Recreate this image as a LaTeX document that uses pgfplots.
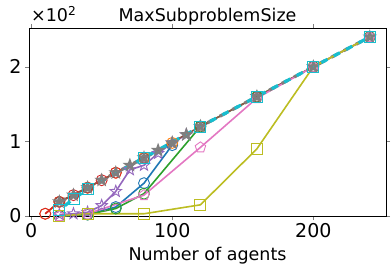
\documentclass[border=0pt]{standalone}
\usepackage{pgfplots}
\pgfplotsset{compat=1.18}
\usepackage{fontspec}
\setmainfont{DejaVu Sans}
\definecolor{c0}{HTML}{1F77B4}
\definecolor{c1}{HTML}{FF7F0E}
\definecolor{c2}{HTML}{2CA02C}
\definecolor{c3}{HTML}{D62728}
\definecolor{c4}{HTML}{9467BD}
\definecolor{c5}{HTML}{8C564B}
\definecolor{c6}{HTML}{E377C2}
\definecolor{c7}{HTML}{7F7F7F}
\definecolor{c8}{HTML}{BCBD22}
\definecolor{c9}{HTML}{17BECF}
\pgfdeclareplotmark{fivestar}{%
  \pgfpathmoveto{\pgfqpointpolar{90}{1.1\pgfplotmarksize}}%
  \pgfpathlineto{\pgfqpointpolar{126}{0.45\pgfplotmarksize}}%
  \pgfpathlineto{\pgfqpointpolar{162}{1.1\pgfplotmarksize}}%
  \pgfpathlineto{\pgfqpointpolar{198}{0.45\pgfplotmarksize}}%
  \pgfpathlineto{\pgfqpointpolar{234}{1.1\pgfplotmarksize}}%
  \pgfpathlineto{\pgfqpointpolar{270}{0.45\pgfplotmarksize}}%
  \pgfpathlineto{\pgfqpointpolar{306}{1.1\pgfplotmarksize}}%
  \pgfpathlineto{\pgfqpointpolar{342}{0.45\pgfplotmarksize}}%
  \pgfpathlineto{\pgfqpointpolar{18}{1.1\pgfplotmarksize}}%
  \pgfpathlineto{\pgfqpointpolar{54}{0.45\pgfplotmarksize}}%
  \pgfpathclose
  \pgfusepathqstroke}
\begin{document}
\begin{tikzpicture}
\begin{axis}[
  scale only axis, width=357pt, height=188pt,
  xmin=-1.5, xmax=251.5, ymin=0, ymax=252,
  xtick={0,100,200}, ytick={0,100,200}, yticklabels={0,1,2},
  tick label style={font=\fontsize{19}{21}\selectfont},
  /pgf/number format/assume math mode=true,
  tick align=outside, major tick length=4pt,
  title={MaxSubproblemSize}, title style={font=\fontsize{17.5}{19}\selectfont, yshift=-7pt},
  xlabel={Number of agents}, xlabel style={font=\fontsize{17.5}{19}\selectfont, yshift=-2pt},
  every axis plot/.append style={line width=1.6pt, mark size=5.5pt, mark options={solid, line width=0.9pt, fill=none}},
  clip=false,
]
\coordinate (bl) at (rel axis cs:0,0);
\coordinate (tr) at (rel axis cs:1,1);
\addplot[c0, mark=o] coordinates {(20,0)(40,2)(60,12)(80,44)(100,95)};
\addplot[c1, mark=o] coordinates {(10,3)(20,19)(40,38)(60,58)(80,78)(100,98)};
\addplot[c2, mark=o] coordinates {(20,0)(40,2)(60,10)(80,30)(120,120)(160,160)(200,200)(240,240)};
\addplot[c3, mark=o] coordinates {(10,3)(20,19)(30,28)(40,38)(50,48)(60,58)};
\addplot[c4, mark=fivestar] coordinates {(20,2)(30,3)(40,5)(50,14)(60,33)(70,62)(80,68)(90,84)(100,98)(110,109)};
\addplot[c5, mark=pentagon] coordinates {(20,19)(40,38)(80,78)(120,120)(160,160)(200,200)(240,240)};
\addplot[c6, mark=pentagon] coordinates {(20,0)(40,3)(80,28)(120,92)(160,158)(200,200)(240,240)};
\addplot[c7, line width=3.2pt, dash pattern=on 7pt off 7pt, mark=fivestar, mark options={solid,line width=2.2pt,fill=c7}, mark size=4pt] coordinates {(20,19)(30,28)(40,38)(50,48)(60,58)(70,68)(80,78)(90,88)(100,98)(110,109)(120,120)(160,160)(200,200)(240,240)};
\addplot[c8, mark=square] coordinates {(20,0)(40,3)(80,3)(120,15)(160,90)(200,200)(240,240)};
\addplot[c9, line width=3.2pt, dash pattern=on 7pt off 7pt, dash phase=7pt, mark=square] coordinates {(20,8)(30,23)(40,36)(80,78)(120,120)(160,160)(200,200)(240,240)};
\end{axis}
\node[anchor=base west, font=\fontsize{17.5}{19}\selectfont, inner sep=0pt] at ([shift={(2pt,6pt)}]bl |- tr) {×10\textsuperscript{2}};
\pgfresetboundingbox
\path[use as bounding box] ([shift={(-29pt,-57pt)}]bl) rectangle ([shift={(6pt,28pt)}]tr);
\end{tikzpicture}
\end{document}
